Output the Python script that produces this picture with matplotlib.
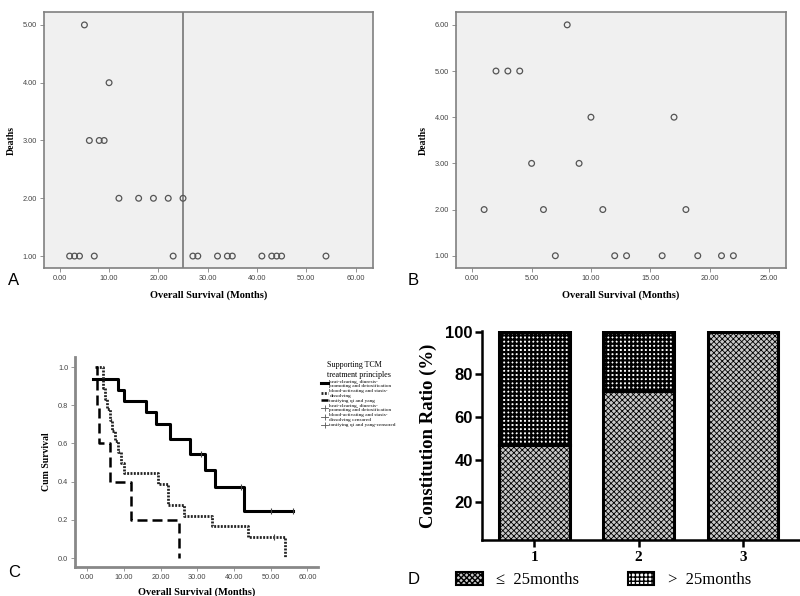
import matplotlib
matplotlib.use("Agg")
import matplotlib.pyplot as plt
from matplotlib.lines import Line2D
from matplotlib.patches import Patch

# ---- panel A: deaths vs overall survival ----
a_months = [5, 10, 6, 8, 9, 12, 16, 19, 22, 25,
            2, 3, 4, 7, 23, 27, 28, 32, 34, 35, 41, 43, 44, 45, 54]
a_deaths = [5, 4, 3, 3, 3, 2, 2, 2, 2, 2,
            1, 1, 1, 1, 1, 1, 1, 1, 1, 1, 1, 1, 1, 1, 1]
a_cut = 25

# ---- panel B ----
b_months = [8, 2, 3, 4, 10, 17, 5, 9, 1, 6, 11, 18, 7, 12, 13, 16, 19, 21, 22]
b_deaths = [6, 5, 5, 5, 4, 4, 3, 3, 2, 2, 2, 2, 1, 1, 1, 1, 1, 1, 1]

# ---- panel C: Kaplan-Meier curves ----
heat_t = [1.6, 8.4, 9.9, 16.0, 18.8, 22.6, 28.0, 32.2, 34.9, 42.6, 56.0]
heat_s = [0.94, 0.88, 0.82, 0.765, 0.70, 0.625, 0.545, 0.46, 0.37, 0.245, 0.245]
heat_cens_t = [31.0, 41.9, 50.0, 56.0]
heat_cens_s = [0.545, 0.37, 0.245, 0.245]

blood_t = [2.3, 4.4, 4.8, 5.3, 6.2, 6.8, 7.5, 8.4, 9.3, 9.9,
           19.2, 21.9, 26.3, 33.9, 43.7, 53.8]
blood_s = [1.0, 0.889, 0.833, 0.778, 0.722, 0.667, 0.611, 0.556, 0.5, 0.444,
           0.389, 0.278, 0.222, 0.167, 0.111, 0.0]
blood_cens_t = [50.8]
blood_cens_s = [0.111]

tonic_t = [2.2, 2.6, 3.1, 6.1, 11.9, 24.9]
tonic_s = [1.0, 0.8, 0.6, 0.4, 0.2, 0.0]

km_labels = ["heat-clearing, diuresis-\npromoting and detoxification",
             "blood-activating and stasis-\ndissolving",
             "tonifying qi and yang",
             "heat-clearing, diuresis-\npromoting and detoxification",
             "blood-activating and stasis-\ndissolving censored",
             "tonifying qi and yang-censored"]

# ---- panel D: constitution ratio ----
groups = ["1", "2", "3"]
le25 = [47.1, 72.2, 100.0]
gt25 = [100 - v for v in le25]

serif = "Liberation Serif"
sans = "Liberation Sans"

fig = plt.figure(figsize=(8, 5.96), dpi=100)


def scatter_panel(rect, xs, ys, xlim, ylim, xticks, yticks):
    ax = fig.add_axes(rect)
    ax.set_facecolor("#f0f0f0")
    ax.scatter(xs, ys, s=17, facecolors="none", edgecolors="#555555", linewidths=0.9, zorder=3)
    ax.set_xlim(*xlim)
    ax.set_ylim(*ylim)
    ax.set_xticks(xticks)
    ax.set_yticks(yticks)
    ax.set_xticklabels(["%.2f" % v for v in xticks], fontsize=5.3, family=sans, color="#444444")
    ax.set_yticklabels(["%.2f" % v for v in yticks], fontsize=5.3, family=sans, color="#444444")
    for sp in ax.spines.values():
        sp.set_color("#808080")
        sp.set_linewidth(1.2)
    ax.tick_params(length=3, width=0.6, color="#808080", pad=2)
    ax.set_xlabel("Overall Survival (Months)", family=serif, fontweight="bold", fontsize=7.5, labelpad=6)
    ax.set_ylabel("Deaths", family=serif, fontweight="bold", fontsize=7, labelpad=5)
    return ax


axA = scatter_panel([0.055, 0.550, 0.411, 0.430], a_months, a_deaths,
                    (-3.2, 63.5), (0.79, 5.225), [0, 10, 20, 30, 40, 50, 60], [1, 2, 3, 4, 5])
axA.axvline(a_cut, color="#808080", lw=1.3, zorder=2)
fig.text(0.010, 0.530, "A", fontsize=12, family=sans, va="center")

axB = scatter_panel([0.570, 0.550, 0.412, 0.430], b_months, b_deaths,
                    (-1.37, 26.4), (0.73, 6.28), [0, 5, 10, 15, 20, 25], [1, 2, 3, 4, 5, 6])
fig.text(0.510, 0.530, "B", fontsize=12, family=sans, va="center")

# ---- panel C ----
axC = fig.add_axes([0.094, 0.0487, 0.304, 0.352])
l1, = axC.step(heat_t, heat_s, where="post", color="black", lw=2.2)
l2, = axC.step(blood_t, blood_s, where="post", color="#222222", lw=2.0, ls=(0, (0.7, 0.5)))
l3, = axC.step(tonic_t, tonic_s, where="post", color="black", lw=1.8, ls=(0, (4, 2)))
axC.plot(heat_cens_t, heat_cens_s, ls="none", marker="|", ms=4, mew=0.8, color="#444444")
axC.plot(blood_cens_t, blood_cens_s, ls="none", marker="|", ms=4, mew=0.8, color="#444444")
axC.set_xlim(-3.3, 63)
axC.set_ylim(-0.047, 1.052)
axC.set_xticks([0, 10, 20, 30, 40, 50, 60])
axC.set_xticklabels(["%.2f" % v for v in [0, 10, 20, 30, 40, 50, 60]], fontsize=5.3, family=sans, color="#444444")
axC.set_yticks([0, 0.2, 0.4, 0.6, 0.8, 1.0])
axC.set_yticklabels(["%.1f" % v for v in [0, 0.2, 0.4, 0.6, 0.8, 1.0]], fontsize=5.3, family=sans, color="#444444")
axC.spines["top"].set_visible(False)
axC.spines["right"].set_visible(False)
for k in ["left", "bottom"]:
    axC.spines[k].set_color("#888888")
    axC.spines[k].set_linewidth(2)
axC.tick_params(length=3, width=0.6, color="#888888", pad=2)
axC.set_xlabel("Overall Survival (Months)", family=serif, fontweight="bold", fontsize=7.5, labelpad=5)
axC.set_ylabel("Cum Survival", family=serif, fontweight="bold", fontsize=7, labelpad=5)
fig.text(0.010, 0.040, "C", fontsize=12, family=sans, va="center")

cens = [Line2D([], [], color="#555555", lw=0.6, marker="|", ms=4, mew=0.6) for _ in range(3)]
legC = fig.legend([l1, l2, l3] + cens, km_labels, loc="upper left",
                  bbox_to_anchor=(0.398, 0.398), frameon=False,
                  prop={"family": serif, "size": 3.8}, handlelength=1.4,
                  handletextpad=0.2, labelspacing=0.15, borderpad=0,
                  title="Supporting TCM\ntreatment principles",
                  title_fontproperties={"family": serif, "size": 5.8})

# ---- panel D ----
axD = fig.add_axes([0.603, 0.094, 0.397, 0.351])
xs = [1, 2, 3]
bars_lo = axD.bar(xs, le25, width=0.675, facecolor="#c8c8c8", edgecolor="black",
                  linewidth=2.2, hatch="xxxxxx")
bars_hi = axD.bar(xs, gt25, width=0.675, bottom=le25, facecolor="white",
                  edgecolor="black", linewidth=2.2, hatch="++++")
for b in bars_lo:
    if hasattr(b, "set_hatch_linewidth"):
        b.set_hatch_linewidth(0.6)
for b in bars_hi:
    if hasattr(b, "set_hatch_linewidth"):
        b.set_hatch_linewidth(1.6)
axD.set_xlim(0.5, 3.55)
axD.set_ylim(2.3, 100.5)
axD.set_yticks([20, 40, 60, 80, 100])
axD.set_yticklabels(["20", "40", "60", "80", "100"], family=sans, fontweight="bold", fontsize=12)
axD.set_xticks(xs)
axD.set_xticklabels(groups, family=serif, fontweight="bold", fontsize=11)
axD.spines["top"].set_visible(False)
axD.spines["right"].set_visible(False)
for k in ["left", "bottom"]:
    axD.spines[k].set_linewidth(1.8)
axD.tick_params(axis="y", length=5, width=1.8, pad=2)
axD.tick_params(axis="x", length=5, width=1.8, pad=3)
axD.set_ylabel("Constitution Ratio (%)", family=serif, fontweight="bold", fontsize=13.5, labelpad=6)
fig.text(0.510, 0.027, "D", fontsize=12, family=sans, va="center")

hd = [Patch(facecolor="#c8c8c8", edgecolor="black", hatch="xxxxxx", lw=1.5),
      Patch(facecolor="white", edgecolor="black", hatch="++++", lw=1.5)]
fig.legend(hd, ["\u2264  25months", ">  25months"], loc="center left",
           bbox_to_anchor=(0.560, 0.027), ncol=2, frameon=False,
           prop={"family": serif, "size": 12}, handlelength=1.6, handleheight=0.8,
           handletextpad=0.8, columnspacing=2.9, borderpad=0)

fig.savefig("out.png", dpi=100)
